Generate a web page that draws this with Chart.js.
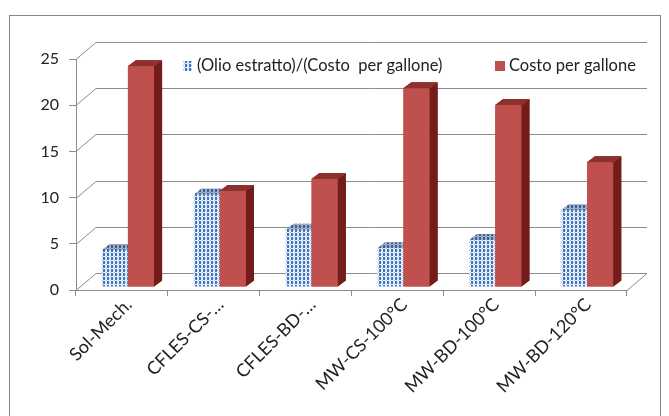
<!DOCTYPE html>
<html>
<head>
<meta charset="utf-8">
<script src="https://cdn.jsdelivr.net/npm/chart.js@4.4.1/dist/chart.umd.min.js"></script>
<style>
    html, body { margin: 0; padding: 0; background: #fff; }
    #wrap { width: 669px; height: 416px; position: relative; }
</style>
</head>
<body>
<div id="wrap"><canvas id="costChart" width="669" height="416"></canvas></div>
<script>
// Data
const categories = ['Sol-Mech.', 'CFLES-CS-\u2026', 'CFLES-BD-\u2026', 'MW-CS-100\u00b0C', 'MW-BD-100\u00b0C', 'MW-BD-120\u00b0C'];
const oilPerCost = [4.0, 10.0, 6.2, 4.2, 5.1, 8.3];
const costPerGallon = [23.9, 10.4, 11.7, 21.5, 19.7, 13.5];
const yTicks = [0, 5, 10, 15, 20, 25];

const FONT = 'Lato, "Open Sans", sans-serif';
const GRID = '#8c8c8c';

// Wall depth (back plane offset) and bar depth
const WALL_DX = 20, WALL_DY = 17;
const BAR_DX = 8, BAR_DY = 6;
// bars sit slightly behind the front plane
const BAR_SHIFT_X = 6, BAR_SHIFT_Y = -3;

// blue checkered fill for the first series
function makePattern() {
    const c = document.createElement('canvas');
    c.width = 4; c.height = 4;
    const g = c.getContext('2d');
    g.fillStyle = '#eef3fa';
    g.fillRect(0, 0, 4, 4);
    g.fillStyle = '#3d74c4';
    g.fillRect(1, 0, 2, 3);
    g.fillStyle = '#a6c1e6';
    g.fillRect(0, 3, 1, 1);
    g.fillRect(3, 1, 1, 1);
    return g.createPattern(c, 'repeat');
}
const bluePattern = makePattern();

function drawFaces(ctx, bar, ds) {
    const l = bar.x - bar.width / 2, r = bar.x + bar.width / 2;
    const t = bar.y, b = bar.base;
    if (ds.sideColor) {
        ctx.beginPath();
        ctx.moveTo(r, t);
        ctx.lineTo(r + BAR_DX, t - BAR_DY);
        ctx.lineTo(r + BAR_DX, b - BAR_DY);
        ctx.lineTo(r, b);
        ctx.closePath();
        ctx.fillStyle = ds.sideColor;
        ctx.fill();
    }
    ctx.beginPath();
    ctx.moveTo(l, t);
    ctx.lineTo(l + BAR_DX, t - BAR_DY);
    ctx.lineTo(r + BAR_DX, t - BAR_DY);
    ctx.lineTo(r, t);
    ctx.closePath();
    ctx.fillStyle = ds.backgroundColor;
    ctx.fill();
    ctx.fillStyle = ds.topShade;
    ctx.fill();
}

const frameAndWalls = {
    id: 'frameAndWalls',
    beforeDraw(chart) {
        const ctx = chart.ctx;
        ctx.save();
        ctx.fillStyle = '#fff';
        ctx.fillRect(0, 0, chart.width, chart.height);
        ctx.strokeStyle = '#868686';
        ctx.lineWidth = 1;
        ctx.strokeRect(9.5, 15.5, 651, 520);
        ctx.restore();
    },
    beforeDatasetsDraw(chart) {
        const ctx = chart.ctx;
        const area = chart.chartArea;
        const y = chart.scales.y;
        ctx.save();
        ctx.strokeStyle = GRID;
        ctx.lineWidth = 1;
        yTicks.forEach(function(v) {
            const py = Math.round(y.getPixelForValue(v)) + 0.5;
            ctx.beginPath();
            ctx.moveTo(area.left, py);
            ctx.lineTo(area.left + WALL_DX, py - WALL_DY);
            ctx.lineTo(area.right + WALL_DX, py - WALL_DY);
            ctx.stroke();
        });
        // right edge of the floor
        const by = Math.round(y.getPixelForValue(0)) + 0.5;
        ctx.beginPath();
        ctx.moveTo(area.right, by);
        ctx.lineTo(area.right + WALL_DX, by - WALL_DY);
        ctx.stroke();
        ctx.restore();

        chart.ctx.save();
        chart.ctx.translate(BAR_SHIFT_X, BAR_SHIFT_Y);
    },
    afterDatasetDraw(chart, args) {
        const ds = chart.data.datasets[args.index];
        args.meta.data.forEach(function(bar) { drawFaces(chart.ctx, bar, ds); });
    },
    afterDatasetsDraw(chart) {
        // the red series sits right of the blue one, so it goes on top last
        const ctx = chart.ctx;
        const meta = chart.getDatasetMeta(1);
        const ds = chart.data.datasets[1];
        meta.data.forEach(function(bar) {
            bar.draw(ctx);
            drawFaces(ctx, bar, ds);
        });
        ctx.restore();
    },
    afterDraw(chart) {
        // legend inside the plot, over the back wall
        const ctx = chart.ctx;
        const ds = chart.data.datasets;
        ctx.save();
        ctx.font = '16.5px ' + FONT;
        ctx.textBaseline = 'middle';
        ctx.fillStyle = bluePattern;
        ctx.fillRect(183, 61, 9, 10);
        ctx.fillStyle = '#222';
        ctx.fillText(ds[0].label, 197, 66);
        ctx.fillStyle = '#c0504d';
        ctx.fillRect(495, 61, 10, 10);
        ctx.fillStyle = '#222';
        ctx.fillText(ds[1].label, 509, 66);
        ctx.restore();
    }
};

new Chart(document.getElementById('costChart').getContext('2d'), {
    type: 'bar',
    data: {
        labels: categories,
        datasets: [
            {
                label: '(Olio estratto)/(Costo  per gallone)',
                data: oilPerCost,
                backgroundColor: bluePattern,
                sideColor: null,
                topShade: 'rgba(40, 60, 90, 0.35)',
                borderWidth: 0
            },
            {
                label: 'Costo per gallone',
                data: costPerGallon,
                backgroundColor: '#c0504d',
                sideColor: '#731c1a',
                topShade: 'rgba(80, 10, 10, 0.45)',
                borderWidth: 0
            }
        ]
    },
    options: {
        responsive: false,
        animation: false,
        layout: { padding: { left: 0, right: 42, top: 59, bottom: 0 } },
        plugins: {
            legend: { display: false },
            tooltip: { enabled: false }
        },
        datasets: {
            bar: { categoryPercentage: 0.57, barPercentage: 1.0 }
        },
        scales: {
            x: {
                afterFit: function(scale) { scale.height = 126; },
                grid: {
                    offset: true,
                    drawOnChartArea: false,
                    tickLength: 6,
                    color: GRID
                },
                border: { color: GRID },
                ticks: {
                    color: '#222',
                    font: { family: FONT, size: 18 },
                    minRotation: 45,
                    maxRotation: 45,
                    labelOffset: 7,
                    padding: -2,
                    autoSkip: false
                }
            },
            y: {
                min: 0,
                max: 25,
                afterFit: function(scale) { scale.width = 76; },
                grid: {
                    drawOnChartArea: false,
                    tickLength: 7,
                    color: GRID
                },
                border: { color: GRID },
                ticks: {
                    stepSize: 5,
                    color: '#222',
                    font: { family: FONT, size: 16 },
                    padding: 10
                }
            }
        }
    },
    plugins: [frameAndWalls]
});
</script>
</body>
</html>
